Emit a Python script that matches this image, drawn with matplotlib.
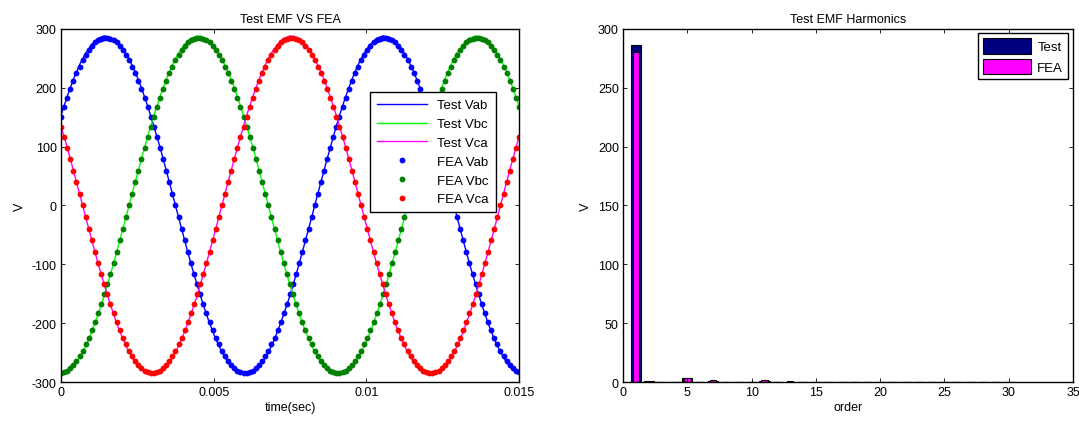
import numpy as np
import matplotlib
matplotlib.use('Agg')
import matplotlib.pyplot as plt

plt.rcParams['font.family'] = ['Liberation Sans', 'DejaVu Sans']
plt.rcParams['font.size'] = 8
plt.rcParams['axes.unicode_minus'] = False

# sample times (s)
t_test = np.linspace(0, 0.015, 75)
t_fea = np.linspace(0, 0.015, 149)

# measured line-to-line EMF (V)
test_vab = [153, 185, 214, 239, 259, 274, 284, 288, 286, 279, 267, 249, 227, 200, 169, 135,
            99, 60, 20, -20, -60, -99, -135, -169, -200, -227, -249, -267, -279, -286, -288,
            -284, -274, -259, -239, -214, -185, -153, -117, -79, -40,
            0, 40, 79, 117, 153, 185, 214, 239, 259, 274, 284, 288, 286, 279, 267, 249, 227,
            200, 169, 135, 99, 60, 20, -20, -60, -99, -135, -169, -200, -227, -249, -267,
            -279, -286]
test_vbc = [-288, -284, -274, -259, -239, -214, -185, -153, -117, -79, -40,
            0, 40, 79, 117, 153, 185, 214, 239, 259, 274, 284, 288, 286, 279, 267, 249, 227,
            200, 169, 135, 99, 60, 20, -20, -60, -99, -135, -169, -200, -227, -249, -267,
            -279, -286, -288, -284, -274, -259, -239, -214, -185, -153, -117, -79, -40,
            0, 40, 79, 117, 153, 185, 214, 239, 259, 274, 284, 288, 286, 279, 267, 249, 227,
            200, 169]
test_vca = [135, 99, 60, 20, -20, -60, -99, -135, -169, -200, -227, -249, -267, -279, -286,
            -288, -284, -274, -259, -239, -214, -185, -153, -117, -79, -40,
            0, 40, 79, 117, 153, 185, 214, 239, 259, 274, 284, 288, 286, 279, 267, 249, 227,
            200, 169, 135, 99, 60, 20, -20, -60, -99, -135, -169, -200, -227, -249, -267,
            -279, -286, -288, -284, -274, -259, -239, -214, -185, -153, -117, -79, -40,
            0, 40, 79, 117]

# FEA line-to-line EMF (V)
fea_vab = [151, 168, 183, 198, 212, 225, 236, 247, 256, 264, 271, 277, 281, 283, 285,
           285, 283, 281, 277, 271, 264, 256, 247, 236, 225, 212, 198, 183, 168, 151, 134,
           116, 98, 79, 59, 40, 20, 0, -20, -40, -59, -79, -98, -116, -134, -151, -168,
           -183, -198, -212, -225, -236, -247, -256, -264, -271, -277, -281, -283, -285,
           -285, -283, -281, -277, -271, -264, -256, -247, -236, -225, -212, -198, -183,
           -168, -151, -134, -116, -98, -79, -59, -40, -20,
           0, 20, 40, 59, 79, 98, 116, 134, 151, 168, 183, 198, 212, 225, 236, 247, 256,
           264, 271, 277, 281, 283, 285, 285, 283, 281, 277, 271, 264, 256, 247, 236, 225,
           212, 198, 183, 168, 151, 134, 116, 98, 79, 59, 40, 20, 0, -20, -40, -59, -79,
           -98, -116, -134, -151, -168, -183, -198, -212, -225, -236, -247, -256, -264,
           -271, -277, -281, -283]
fea_vbc = [-285, -283, -281, -277, -271, -264, -256, -247, -236, -225, -212, -198, -183,
           -168, -151, -134, -116, -98, -79, -59, -40, -20,
           0, 20, 40, 59, 79, 98, 116, 134, 151, 168, 183, 198, 212, 225, 236, 247, 256,
           264, 271, 277, 281, 283, 285, 285, 283, 281, 277, 271, 264, 256, 247, 236, 225,
           212, 198, 183, 168, 151, 134, 116, 98, 79, 59, 40, 20, 0, -20, -40, -59, -79,
           -98, -116, -134, -151, -168, -183, -198, -212, -225, -236, -247, -256, -264,
           -271, -277, -281, -283, -285, -285, -283, -281, -277, -271, -264, -256, -247,
           -236, -225, -212, -198, -183, -168, -151, -134, -116, -98, -79, -59, -40, -20,
           0, 20, 40, 59, 79, 98, 116, 134, 151, 168, 183, 198, 212, 225, 236, 247, 256,
           264, 271, 277, 281, 283, 285, 285, 283, 281, 277, 271, 264, 256, 247, 236, 225,
           212, 198, 183, 168]
fea_vca = [134, 116, 98, 79, 59, 40, 20, 0, -20, -40, -59, -79, -98, -116, -134, -151,
           -168, -183, -198, -212, -225, -236, -247, -256, -264, -271, -277, -281, -283,
           -285, -285, -283, -281, -277, -271, -264, -256, -247, -236, -225, -212, -198,
           -183, -168, -151, -134, -116, -98, -79, -59, -40, -20,
           0, 20, 40, 59, 79, 98, 116, 134, 151, 168, 183, 198, 212, 225, 236, 247, 256,
           264, 271, 277, 281, 283, 285, 285, 283, 281, 277, 271, 264, 256, 247, 236, 225,
           212, 198, 183, 168, 151, 134, 116, 98, 79, 59, 40, 20, 0, -20, -40, -59, -79,
           -98, -116, -134, -151, -168, -183, -198, -212, -225, -236, -247, -256, -264,
           -271, -277, -281, -283, -285, -285, -283, -281, -277, -271, -264, -256, -247,
           -236, -225, -212, -198, -183, -168, -151, -134, -116, -98, -79, -59, -40, -20,
           0, 20, 40, 59, 79, 98, 116]

# harmonic spectrum
orders = list(range(1, 31))
harm_test = [286, 1.2, 0.3, 0.4, 3.0, 0.3, 1.2, 0.3, 0.2, 0.2, 0.8, 0.2, 0.4, 0.1, 0.3,
             0.1, 0.3, 0.1, 0.2, 0.1, 0.2, 0.1, 0.2, 0.1, 0.2, 0.1, 0.2, 0.1, 0.2, 0.1]
harm_fea = [280.5, 0.2, 0.3, 0.2, 3.8, 0.2, 1.6, 0.2, 0.3, 0.2, 1.5, 0.2, 0.6, 0.2, 0.2,
            0.2, 0.3, 0.2, 0.2, 0.2, 0.3, 0.2, 0.2, 0.2, 0.3, 0.2, 0.2, 0.2, 0.2, 0.2]


def matlab_box(ax):
    for sp in ax.spines.values():
        sp.set_linewidth(1.0)
        sp.set_color('black')
    ax.tick_params(direction='in', top=True, right=True, length=3, width=0.6,
                   labelsize=9, pad=3)


fig = plt.figure(figsize=(10.79, 4.27), dpi=100)
ax1 = fig.add_axes([0.0565, 0.103, 0.4245, 0.827])
ax2 = fig.add_axes([0.5774, 0.103, 0.417, 0.827])

# Left: waveforms
ax1.plot(t_test, test_vab, color='#0000ff', lw=1, label='Test Vab')
ax1.plot(t_test, test_vbc, color='#00ff00', lw=1, label='Test Vbc')
ax1.plot(t_test, test_vca, color='#ff00ff', lw=1, label='Test Vca')
ax1.plot(t_fea, fea_vab, 'o', color='#0000ff', ms=4.2, mew=0, label='FEA Vab')
ax1.plot(t_fea, fea_vbc, 'o', color='#008000', ms=4.2, mew=0, label='FEA Vbc')
ax1.plot(t_fea, fea_vca, 'o', color='#ff0000', ms=4.2, mew=0, label='FEA Vca')
ax1.set_xlim(0, 0.015)
ax1.set_ylim(-300, 300)
ax1.set_xticks([0, 0.005, 0.01, 0.015])
ax1.set_xticklabels(['0', '0.005', '0.01', '0.015'])
ax1.set_yticks(range(-300, 301, 100))
ax1.set_xlabel('time(sec)', fontsize=9, labelpad=2)
ax1.set_ylabel('V', fontsize=9, labelpad=4)
ax1.set_title('Test EMF VS FEA', fontsize=9, pad=5)
matlab_box(ax1)
leg1 = ax1.legend(loc='upper left', bbox_to_anchor=(0.675, 0.82), fontsize=9.5,
                  frameon=True, fancybox=False, edgecolor='black', framealpha=1,
                  handlelength=3.8, handletextpad=0.8, labelspacing=0.5,
                  borderpad=0.5, borderaxespad=0)
leg1.get_frame().set_linewidth(1.0)

# Right: harmonics
ax2.bar(orders, harm_test, width=0.8, color='#000080', edgecolor='black', lw=0.8,
        label='Test')
ax2.bar(orders, harm_fea, width=0.5, color='#ff00ff', edgecolor='black', lw=0.8,
        label='FEA')
ax2.set_xlim(0, 35)
ax2.set_ylim(0, 300)
ax2.set_xticks(range(0, 36, 5))
ax2.set_yticks(range(0, 301, 50))
ax2.set_xlabel('order', fontsize=9, labelpad=2)
ax2.set_ylabel('V', fontsize=9, labelpad=4)
ax2.set_title('Test EMF Harmonics', fontsize=9, pad=5)
matlab_box(ax2)
leg2 = ax2.legend(loc='upper right', bbox_to_anchor=(0.99, 0.988), fontsize=9.5,
                  frameon=True, fancybox=False, edgecolor='black', framealpha=1,
                  handlelength=3.6, handleheight=1.4, handletextpad=0.5,
                  labelspacing=0.4, borderpad=0.4, borderaxespad=0)
leg2.get_frame().set_linewidth(1.0)

fig.savefig('out.png', dpi=100)
